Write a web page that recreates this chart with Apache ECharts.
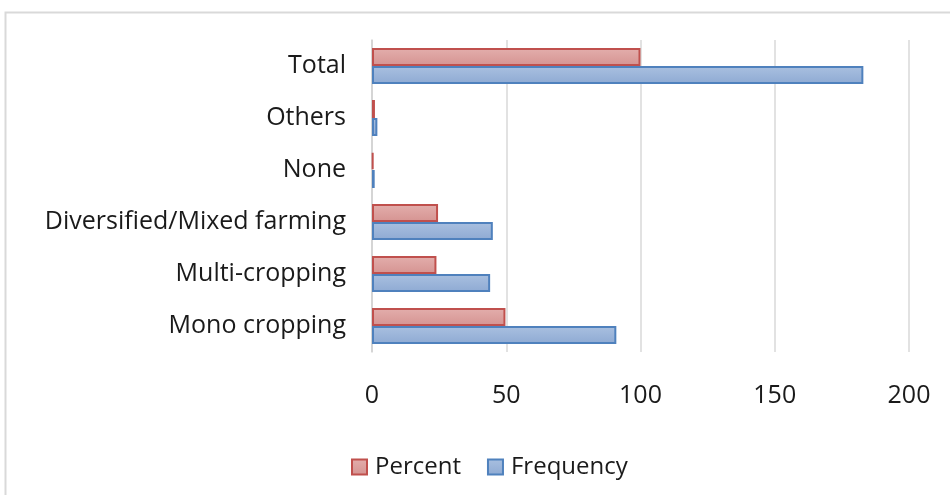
<!DOCTYPE html>
<html>
<head>
<meta charset="utf-8">
<style>
  html, body { margin: 0; padding: 0; background: #ffffff; }
  #chart { width: 950px; height: 495px; }
</style>
<script src="https://cdn.jsdelivr.net/npm/echarts@6/dist/echarts.min.js"></script>
</head>
<body>
<div id="chart"></div>
<script>
// Farming practice categories, bottom to top
const categories = ['Mono cropping', 'Multi-cropping', 'Diversified/Mixed farming', 'None', 'Others', 'Total'];
const frequency = [91, 44, 45, 1, 2, 183];
const percent = [49.7, 24.0, 24.6, 0.5, 1.1, 100];
const xTicks = [0, 50, 100, 150, 200];

const FONT = '"Open Sans", "Noto Sans", sans-serif';
const TEXT = '#1a1a1a';

function grad(top, bottom) {
  return new echarts.graphic.LinearGradient(0, 0, 0, 1, [
    { offset: 0, color: top },
    { offset: 1, color: bottom }
  ]);
}

const chart = echarts.init(document.getElementById('chart'), null, { renderer: 'canvas' });

chart.setOption({
  animation: false,
  backgroundColor: '#ffffff',
  graphic: [{
    type: 'rect',
    shape: { x: 5.5, y: 12.5, width: 960, height: 500 },
    style: { fill: 'none', stroke: '#d9d9d9', lineWidth: 2 },
    silent: true,
    z: -10
  }],
  grid: { left: 372, right: 41, top: 40, bottom: 143, containLabel: false },
  legend: {
    top: 450,
    left: 346,
    icon: 'rect',
    itemWidth: 15,
    itemHeight: 15,
    itemGap: 26,
    textStyle: { fontFamily: FONT, fontSize: 24, color: TEXT, padding: [0, 0, 0, 3] },
    data: ['Percent', 'Frequency']
  },
  xAxis: {
    type: 'value',
    min: xTicks[0],
    max: xTicks[xTicks.length - 1],
    interval: 50,
    axisLine: { show: false },
    axisTick: { show: false },
    axisLabel: { fontFamily: FONT, fontSize: 25, color: TEXT, margin: 31 },
    splitLine: { show: true, lineStyle: { color: '#d9d9d9', width: 1.5 } }
  },
  yAxis: {
    type: 'category',
    data: categories,
    axisLine: { show: true, lineStyle: { color: '#d0d0d0', width: 1.5 } },
    axisTick: { show: false },
    axisLabel: { fontFamily: FONT, fontSize: 25, color: TEXT, margin: 26 }
  },
  series: [
    {
      name: 'Percent',
      type: 'bar',
      data: percent,
      barWidth: 18,
      barGap: '0%',
      itemStyle: {
        color: grad('#e3aeac', '#d59391'),
        borderColor: '#c0504d',
        borderWidth: 2
      }
    },
    {
      name: 'Frequency',
      type: 'bar',
      data: frequency,
      barWidth: 18,
      barGap: '0%',
      itemStyle: {
        color: grad('#a9c0e0', '#8eaad3'),
        borderColor: '#4f81bd',
        borderWidth: 2
      }
    }
  ]
});
</script>
</body>
</html>
